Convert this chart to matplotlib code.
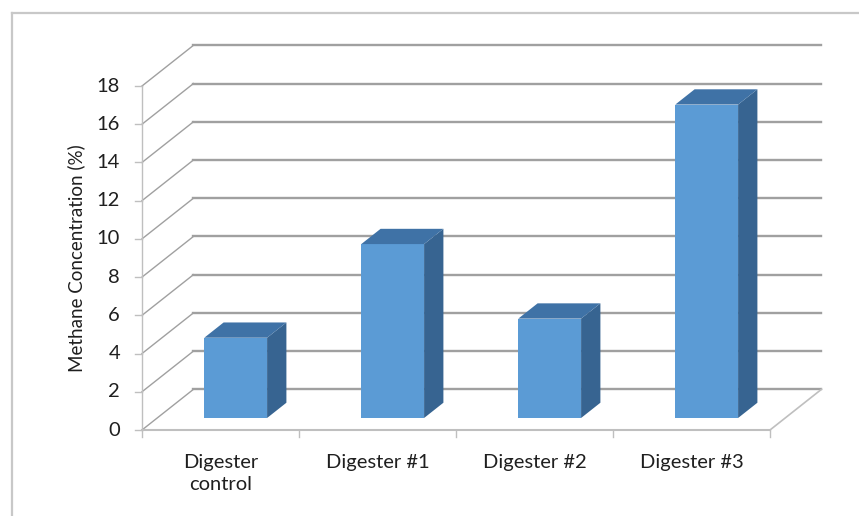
import matplotlib.pyplot as plt
from matplotlib.patches import Polygon
from matplotlib.lines import Line2D

categories = ["Digester\ncontrol", "Digester #1", "Digester #2", "Digester #3"]
methane = [4.2, 9.1, 5.2, 16.4]
y_ticks = list(range(0, 20, 2))

# pseudo-3D box geometry (in data units)
DEPTH_X = 0.328
DEPTH_Y = 2.13
BAR_W = 0.40
BAR_FRONT = 0.295
BAR_BACK = 0.67

FRONT = "#5B9BD5"
TOP = "#3F72A6"
SIDE = "#376491"
GRID = "#A0A0A0"
TEXT = "#1F1F1F"

plt.rcParams["font.family"] = ["Lato", "DejaVu Sans"]

fig = plt.figure(figsize=(8.59, 5.16), dpi=100)
ax = fig.add_axes([142 / 859, 86 / 516, 628 / 859, 344 / 516])
ax.set_xlim(0, len(categories))
ax.set_ylim(0, 18)
ax.axis("off")

n = len(categories)

# back wall gridlines and left wall diagonals
for v in y_ticks:
    ax.plot([DEPTH_X, n + DEPTH_X], [v + DEPTH_Y, v + DEPTH_Y], color=GRID, lw=1.7,
            clip_on=False, zorder=1)
    ax.plot([0, DEPTH_X], [v, v + DEPTH_Y], color=GRID, lw=1.0, clip_on=False, zorder=1)
    ax.plot([-0.045, 0], [v, v], color="#BFBFBF", lw=1.0, clip_on=False, zorder=1)
    ax.text(-0.14, v, str(v), ha="right", va="center", fontsize=14.5, color=TEXT)

# front vertical axis, floor edges
ax.plot([0, 0], [0, 18], color="#BFBFBF", lw=1.0, clip_on=False, zorder=1)
ax.plot([0, n], [0, 0], color="#BFBFBF", lw=1.5, clip_on=False, zorder=1)
ax.plot([n, n + DEPTH_X], [0, DEPTH_Y], color="#BFBFBF", lw=1.2, clip_on=False, zorder=1)
for i in range(n + 1):
    ax.plot([i, i], [0, -0.37], color="#BFBFBF", lw=1.0, clip_on=False, zorder=1)

# bars: front face, side face, top face
for i, v in enumerate(methane):
    x0 = i + 0.5 - BAR_W / 2 + BAR_FRONT * DEPTH_X
    x1 = x0 + BAR_W
    b = BAR_FRONT * DEPTH_Y
    dx = (BAR_BACK - BAR_FRONT) * DEPTH_X
    dy = (BAR_BACK - BAR_FRONT) * DEPTH_Y
    front = Polygon([(x0, b), (x1, b), (x1, b + v), (x0, b + v)], closed=True,
                    facecolor=FRONT, edgecolor="none", zorder=3, clip_on=False)
    side = Polygon([(x1, b), (x1 + dx, b + dy), (x1 + dx, b + v + dy), (x1, b + v)],
                   closed=True, facecolor=SIDE, edgecolor="none", zorder=3, clip_on=False)
    top = Polygon([(x0, b + v), (x1, b + v), (x1 + dx, b + v + dy), (x0 + dx, b + v + dy)],
                  closed=True, facecolor=TOP, edgecolor="none", zorder=3, clip_on=False)
    for p in (front, side, top):
        ax.add_patch(p)
    ax.text(i + 0.5, -1.25, categories[i], ha="center", va="top", fontsize=14.5,
            color=TEXT, linespacing=1.4)

ax.text(-0.42, 9, "Methane Concentration (%)", rotation=90, ha="center", va="center",
        fontsize=13.5, color=TEXT)

# chart area border (left and top edges)
fig.add_artist(Line2D([12 / 859, 12 / 859], [0, 1 - 13 / 516], transform=fig.transFigure,
                      color="#C8C8C8", lw=1.6))
fig.add_artist(Line2D([12 / 859, 1], [1 - 13 / 516, 1 - 13 / 516], transform=fig.transFigure,
                      color="#C8C8C8", lw=1.6))

fig.savefig("out.png", dpi=100)
